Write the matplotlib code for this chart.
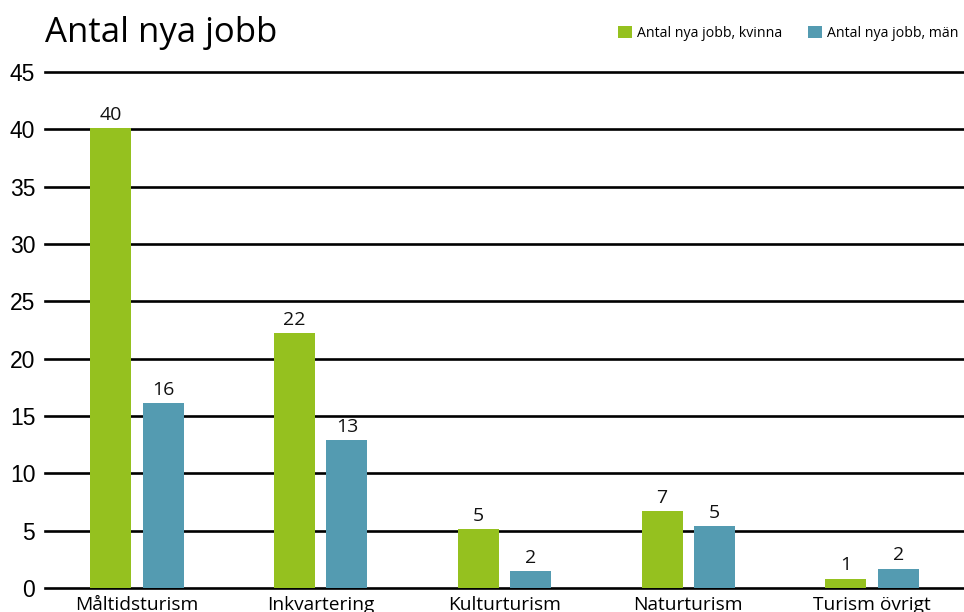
import matplotlib
matplotlib.use('Agg')
import matplotlib.pyplot as plt
import numpy as np

# Data
categories = ['Måltidsturism', 'Inkvartering', 'Kulturturism', 'Naturturism', 'Turism övrigt']
kvinna = [40.1, 22.2, 5.15, 6.7, 0.82]
man = [16.1, 12.9, 1.45, 5.4, 1.7]
kvinna_labels = ['40', '22', '5', '7', '1']
man_labels = ['16', '13', '2', '5', '2']
yticks = [0, 5, 10, 15, 20, 25, 30, 35, 40, 45]

green = '#95c11f'
blue = '#549bb1'

fig = plt.figure(figsize=(9.64, 6.12), dpi=100)
ax = fig.add_axes([45/964, 1 - 588/612, 1 - 45/964, (588 - 72)/612])

x = np.arange(len(categories))
w = 0.223
off = 0.143
b1 = ax.bar(x - off, kvinna, w, color=green, zorder=3, label='Antal nya jobb, kvinna')
b2 = ax.bar(x + off, man, w, color=blue, zorder=3, label='Antal nya jobb, män')

# value labels above bars
for bars, labs in [(b1, kvinna_labels), (b2, man_labels)]:
    for rect, lab in zip(bars, labs):
        ax.annotate(lab, (rect.get_x() + rect.get_width() / 2, rect.get_height()),
                    xytext=(0, 3), textcoords='offset points', ha='center', va='bottom',
                    fontsize=14, family='Open Sans', color='#111111')

ax.set_xlim(-0.5, len(categories) - 0.5)
ax.set_ylim(0, 45)
ax.set_yticks(yticks)
for t in yticks:
    ax.axhline(t, color='black', lw=1.9, zorder=2, clip_on=False)
for s in ax.spines.values():
    s.set_visible(False)
ax.tick_params(axis='y', length=0, pad=7, labelsize=16.5)
ax.tick_params(axis='x', length=0, pad=6)
for lbl in ax.get_yticklabels():
    lbl.set_family('Liberation Sans')
ax.set_xticks(x)
ax.set_xticklabels(categories, fontsize=13.8, family='Open Sans')

fig.text(45/964, 1 - 42/612, 'Antal nya jobb', fontsize=25, family='Open Sans', va='baseline')

ax.legend(loc='upper right', bbox_to_anchor=(1.0, 1 + 52/516), ncol=2, frameon=False,
          prop={'family': 'Open Sans', 'size': 10.2}, handlelength=1.0, handleheight=1.0,
          handletextpad=0.35, columnspacing=1.8, borderaxespad=0)

fig.savefig('out.png', dpi=100)
